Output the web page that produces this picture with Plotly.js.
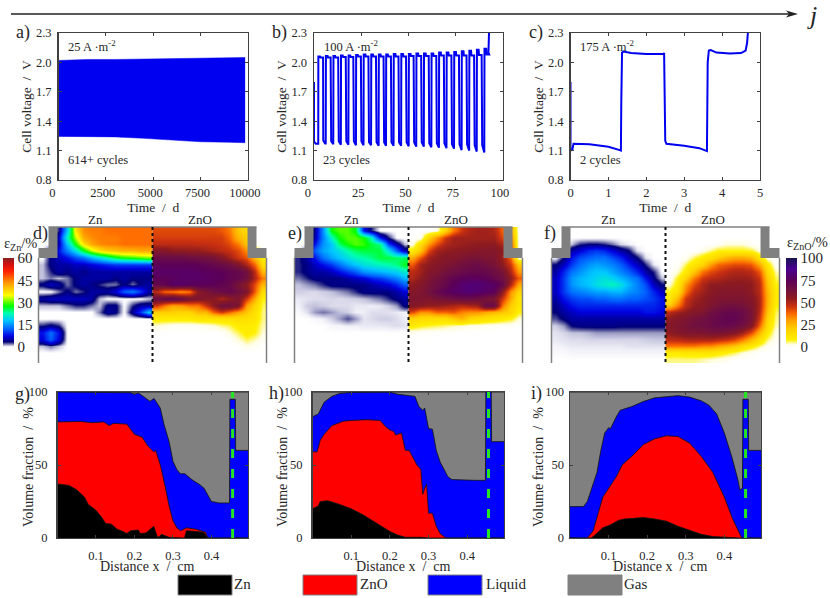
<!DOCTYPE html>
<html>
<head>
<meta charset="utf-8">
<script src="https://cdn.plot.ly/plotly-3.0.1.min.js"></script>
<style>html,body{margin:0;background:#fff}#chart{width:830px;height:598px}</style>
</head>
<body>
<div id="chart"></div>
<script>
// ── Voltage curves (top row) ──────────────────────────────────────────────────
const aTime = [0, 500, 1500, 3000, 4500, 6000, 7500, 9000, 9850];
const aUpper = [2.02, 2.025, 2.03, 2.03, 2.035, 2.04, 2.045, 2.05, 2.05];
const aLower = [1.245, 1.245, 1.245, 1.24, 1.225, 1.205, 1.19, 1.185, 1.18];

const bRise = [2.3, 6.3, 10.3, 14.3, 18.3, 22.3, 26.3, 30.3, 34.3, 38.2, 42.2, 46.2, 50.2, 54.2, 58.2, 62.2, 66.2, 70.2, 74.2, 78.2, 82.2, 86.2, 90.2];
const bTopHigh = [2.06, 2.065, 2.065, 2.07, 2.07, 2.075, 2.08, 2.08, 2.08, 2.08, 2.085, 2.085, 2.085, 2.09, 2.09, 2.09, 2.1, 2.1, 2.105, 2.115, 2.12, 2.13, 2.14];
const bTopLow = [2.05, 2.05, 2.05, 2.055, 2.055, 2.06, 2.06, 2.06, 2.06, 2.06, 2.06, 2.06, 2.065, 2.065, 2.065, 2.065, 2.07, 2.07, 2.07, 2.07, 2.07, 2.075, 2.08];
const bLowHigh = [1.21, 1.21, 1.21, 1.21, 1.21, 1.21, 1.21, 1.2, 1.2, 1.2, 1.2, 1.2, 1.2, 1.2, 1.2, 1.19, 1.19, 1.19, 1.18, 1.18, 1.18, 1.17, 1.17];
const bLowEnd = [1.17, 1.165, 1.165, 1.16, 1.16, 1.155, 1.155, 1.155, 1.15, 1.15, 1.15, 1.15, 1.145, 1.14, 1.14, 1.135, 1.13, 1.125, 1.12, 1.105, 1.1, 1.09, 1.08];

const cTime = [0, 0, 0.05, 0.08, 0.5, 1.0, 1.3, 1.33, 1.34, 1.36, 1.4, 1.6, 2.0, 2.45, 2.47, 2.49, 2.5, 2.53, 3.0, 3.4, 3.6, 3.62, 3.65, 3.7, 3.85, 4.2, 4.5, 4.62, 4.66, 4.68, 4.7];
const cVolt = [1.8, 1.1, 1.11, 1.17, 1.165, 1.14, 1.105, 1.1, 1.6, 2.1, 2.11, 2.095, 2.085, 2.085, 2.095, 1.7, 1.2, 1.17, 1.15, 1.125, 1.095, 2.0, 2.12, 2.125, 2.1, 2.09, 2.095, 2.12, 2.2, 2.3, 2.5];

const voltTicks = [0.8, 1.1, 1.4, 1.7, 2.0, 2.3];

// ── Volume fractions (bottom row) ─────────────────────────────────────────────
const gLiquidX = [0, 0.05, 0.1, 0.15, 0.19, 0.2, 0.21, 0.223, 0.24, 0.251, 0.267, 0.277, 0.29, 0.3, 0.31, 0.319, 0.331, 0.349, 0.37, 0.381, 0.392, 0.4, 0.42, 0.447, 0.448, 0.462, 0.463, 0.495];
const gLiquidY = [100, 100, 99.5, 99.7, 99.5, 98.5, 99.3, 97, 93.6, 95.5, 89, 77.6, 66, 52.5, 47, 44, 44, 40, 36.5, 34, 29, 25, 24, 24, 95, 95, 60, 60];
const gZnOX = [0, 0.06, 0.09, 0.12, 0.135, 0.145, 0.18, 0.2, 0.22, 0.235, 0.25, 0.255, 0.265, 0.27, 0.28, 0.29, 0.3, 0.31, 0.32, 0.335, 0.36, 0.385, 0.39, 0.495];
const gZnOY = [79.5, 79.8, 79, 79.5, 77, 78.5, 78, 71, 69, 63, 59, 60, 52, 47, 35, 22, 12, 7, 5, 7, 6, 4, 0, 0];
const gZnX = [0, 0.03, 0.05, 0.07, 0.08, 0.1, 0.115, 0.125, 0.14, 0.155, 0.17, 0.18, 0.19, 0.21, 0.215, 0.23, 0.25, 0.26, 0.265, 0.27, 0.29, 0.33, 0.335, 0.38, 0.39, 0.495];
const gZnY = [37, 36, 33, 28, 23, 19, 14, 10, 9.5, 6, 4.5, 3, 5, 5.5, 3, 3.5, 8, 0.5, 1, 2.5, 0.5, 0, 5, 4, 0, 0];

const hLiquidX = [0, 0.015, 0.03, 0.05, 0.07, 0.1, 0.2, 0.22, 0.25, 0.265, 0.275, 0.285, 0.29, 0.3, 0.31, 0.32, 0.33, 0.35, 0.36, 0.38, 0.39, 0.42, 0.447, 0.448, 0.462, 0.463, 0.495];
const hLiquidY = [83, 85, 93, 97, 99, 99.7, 99.8, 98.5, 97.5, 97, 90, 87.5, 89, 75, 74.5, 60, 52, 42, 40, 39.7, 40, 39.5, 39.5, 100, 100, 66, 66];
const hZnOX = [0, 0.012, 0.02, 0.03, 0.05, 0.08, 0.1, 0.14, 0.175, 0.19, 0.2, 0.21, 0.215, 0.22, 0.23, 0.24, 0.25, 0.26, 0.27, 0.28, 0.285, 0.29, 0.295, 0.3, 0.31, 0.32, 0.33, 0.345, 0.495];
const hZnOY = [59, 59, 67, 71, 77, 80, 80.5, 81, 80.5, 76, 74, 73, 70.5, 71, 72, 60, 60, 55, 50, 47, 30, 34, 37, 17, 17, 8, 3, 0, 0];
const hZnX = [0, 0.015, 0.02, 0.04, 0.07, 0.1, 0.13, 0.16, 0.18, 0.2, 0.22, 0.24, 0.28, 0.3, 0.495];
const hZnY = [20, 22, 25, 25.5, 23, 20, 16, 11, 8, 4.5, 2, 0.5, 0.5, 0, 0];

const iLiquidX = [0, 0.035, 0.045, 0.06, 0.07, 0.08, 0.09, 0.1, 0.105, 0.12, 0.13, 0.16, 0.19, 0.22, 0.25, 0.28, 0.31, 0.34, 0.36, 0.38, 0.4, 0.42, 0.435, 0.44, 0.447, 0.448, 0.462, 0.463, 0.495];
const iLiquidY = [21.5, 21.5, 25, 38, 45, 60, 72, 75.5, 75, 83, 87.5, 90, 93.5, 96, 97, 97.5, 96.5, 94, 91, 85, 72, 55, 40, 33, 34, 95, 95, 60, 60];
const iZnOX = [0, 0.045, 0.06, 0.075, 0.085, 0.1, 0.12, 0.135, 0.16, 0.19, 0.22, 0.25, 0.28, 0.31, 0.34, 0.37, 0.4, 0.42, 0.44, 0.445, 0.495];
const iZnOY = [0, 0, 5, 18, 28, 34, 42, 50, 56, 64, 68, 70, 69.5, 65, 56, 45, 28, 14, 2, 0, 0];
const iZnX = [0, 0.055, 0.065, 0.085, 0.105, 0.125, 0.14, 0.19, 0.22, 0.25, 0.28, 0.31, 0.34, 0.37, 0.4, 0.44, 0.495];
const iZnY = [0, 0, 2, 7, 9, 12, 13, 14, 13, 11.5, 8, 5, 2.5, 1, 0.5, 0, 0];

const fracX = [0, 0.495];
const gasTop = [100, 100];
const sepX = [0.455, 0.455];
const sepY = [0, 100];

// ── Cell maps (middle row), 20 rows top to bottom × 14 columns ────────────────
const dZn = [
  [0,0,3,18,37,44,45,45,46,46,46,46,46,46],
  [0,0,6,22,33,42,44,45,45,45,46,46,46,46],
  [0,0,5,18,28,37,42,44,45,45,46,46,46,46],
  [0,4,8,14,20,27,33,37,39,40,41,41,42,42],
  [0,4,6,8,11,13,17,20,23,26,28,29,30,31],
  [1,4,5,5,6,6,7,8,9,10,10,10,10,10],
  [1,3,5,4,5,4,5,5,5,5,5,5,5,5],
  [1,2,1,2,4,5,5,5,5,4,5,4,4,4],
  [4,6,5,2,4,5,4,3,2,2,4,2,4,5],
  [0,0,2,4,2,3,5,5,5,7,12,14,10,5],
  [5,6,6,6,6,6,5,1,0,0,0,0,0,1],
  [1,1,1,2,3,3,2,1,4,4,0,3,5,5],
  [0,0,0,0,0,0,0,2,5,4,0,5,10,18],
  [0,0,0,0,0,0,0,0,0,0,0,0,0,0],
  [3,4,3,0,0,0,0,0,0,0,0,0,0,0],
  [8,13,8,0,0,0,0,0,0,0,0,0,0,0],
  [7,12,7,0,0,0,0,0,0,0,0,0,0,0],
  [1,2,1,0,0,0,0,0,0,0,0,0,0,0],
  [0,0,0,0,0,0,0,0,0,0,0,0,0,0],
  [0,0,0,0,0,0,0,0,0,0,0,0,0,0],
];
const dZnO = [
  [42,42,42,42,42,42,42,42,40,35,22,16,0,0],
  [44,44,44,44,44,44,44,44,44,38,25,20,0,0],
  [48,48,48,48,48,47,47,46,45,42,35,22,0,0],
  [58,58,55,55,54,54,52,50,48,46,42,32,14,0],
  [68,68,68,68,66,65,64,62,58,52,45,40,25,10],
  [75,75,75,75,75,74,72,70,68,65,60,50,38,15],
  [78,78,78,78,78,78,76,76,74,72,70,65,48,25],
  [75,75,76,78,78,78,78,76,76,72,70,65,50,35],
  [70,72,78,78,76,76,75,75,72,70,62,55,42,25],
  [48,38,36,32,36,55,60,65,68,70,65,60,40,15],
  [68,70,72,68,62,60,58,56,50,55,60,45,28,8],
  [45,35,28,30,35,35,45,55,65,65,60,30,18,6],
  [20,20,20,18,18,25,25,38,45,38,30,22,14,5],
  [10,10,10,10,10,12,12,12,12,14,15,14,12,5],
  [3,2,1,1,1,1,2,3,5,6,10,10,9,4],
  [0,0,0,0,0,0,0,0,0,3,6,10,8,3],
  [0,0,0,0,0,0,0,0,0,0,3,6,4,1],
  [0,0,0,0,0,0,0,0,0,0,0,2,1,0],
  [0,0,0,0,0,0,0,0,0,0,0,0,0,0],
  [0,0,0,0,0,0,0,0,0,0,0,0,0,0],
];
const eZn = [
  [0,0,4,15,28,30,30,27,8,3,0,0,0,0],
  [0,0,5,14,22,28,30,30,28,22,8,3,0,0],
  [0,0,8,15,18,25,28,30,29,26,24,10,5,1],
  [0,3,12,16,18,20,23,25,26,26,26,20,12,5],
  [3,5,8,13,16,18,20,22,23,24,26,26,25,25],
  [3,4,6,8,10,13,16,18,20,21,22,23,24,27],
  [3,4,5,5,6,8,10,12,15,16,17,18,19,21],
  [2,3,4,4,4,4,5,6,7,9,10,12,14,17],
  [1,1.5,2,3,4,4,4,4,4,5,6,7,9,12],
  [.8,.7,.6,.8,1,1.5,2,3,4,4,4,4,5,7],
  [.4,.5,.6,.6,.7,.6,.7,.8,1,1.5,2,3,4,5],
  [.3,.8,1,.8,.6,.6,.6,.4,.4,.3,.4,.8,1.5,4],
  [.1,.5,1.5,2,1.5,1,.8,.3,.3,.6,.6,.5,.4,.2],
  [0,0,.1,.3,.8,1.5,2.5,1.5,.5,.6,.8,.8,.6,.3],
  [0,0,0,0,.2,.2,.3,.3,.4,.4,.4,.5,.6,.5],
  [0,0,0,0,0,0,0,0,0,0,0,0,0,0],
  [0,0,0,0,0,0,0,0,0,0,0,0,0,0],
  [0,0,0,0,0,0,0,0,0,0,0,0,0,0],
  [0,0,0,0,0,0,0,0,0,0,0,0,0,0],
  [0,0,0,0,0,0,0,0,0,0,0,0,0,0],
];
const eZnO = [
  [0,0,0,2,18,35,45,50,52,52,50,38,28,0],
  [0,1,18,32,45,52,52,52,52,52,52,42,35,0],
  [2,15,30,42,50,52,53,54,55,55,55,50,42,0],
  [10,22,42,52,54,55,56,57,58,58,58,55,45,0],
  [28,40,52,55,58,58,60,62,62,60,60,52,38,0],
  [40,52,55,58,60,62,65,66,68,65,62,55,45,22],
  [48,52,58,60,64,66,68,70,70,70,66,62,50,30],
  [50,55,60,64,68,72,75,76,76,74,70,65,55,40],
  [55,58,62,66,70,76,80,82,82,80,78,70,50,28],
  [58,60,64,70,75,78,80,82,80,78,75,55,32,18],
  [60,60,60,62,64,66,68,68,66,62,60,45,28,12],
  [58,56,54,54,52,50,48,50,52,68,68,35,20,12],
  [42,32,32,38,38,40,34,32,32,28,25,22,18,8],
  [18,16,15,15,15,20,26,18,16,14,12,10,8,3],
  [10,8,7,6,5,4,3,2,2,1,1,.5,.5,0],
  [1,.5,.3,.2,.1,0,0,0,0,0,0,0,0,0],
  [0,0,0,0,0,0,0,0,0,0,0,0,0,0],
  [0,0,0,0,0,0,0,0,0,0,0,0,0,0],
  [0,0,0,0,0,0,0,0,0,0,0,0,0,0],
  [0,0,0,0,0,0,0,0,0,0,0,0,0,0],
];
const fZn = [
  [0,0,0,0,0,0,0,0,0,0,0,0,0,0],
  [0,0,0,0,0,0,0,0,0,0,0,0,0,0],
  [0,0,1,3,3.5,3.5,3,2,.7,.3,0,0,0,0],
  [0,.4,5,7,9,10,9,7,5,3.5,.5,0,0,0],
  [.2,3.5,8,11,12,13,13,11,9,6,3.5,.5,0,0],
  [3.5,6,10,13,15,16,15,14,12,9,6,3,.4,0],
  [5,9,13,15,17,18,18,16,14,12,9,5,3,0],
  [6,10,15,17,18,19,20,19,17,15,13,8,4,1],
  [6,10,15,17,18,20,21,22,20,17,14,11,6,3.5],
  [6,10,13,14,15,16,16,17,17,15,14,12,9,6],
  [5,8,10,11,11,12,12,13,13,12,12,11,10,8],
  [4,6,8,9,9,9,9,9,9,9,9,9,9,8],
  [3.5,5,6,7,7,7,7,7,7,7,7,8,8,7],
  [2.5,3.8,5,5,5,5,5,5,5,5,5,5,5,5],
  [.8,1.5,3.5,4,4,4,4,4,3.8,3.8,3.8,3.8,3.8,3.8],
  [.5,.7,1,1,1.2,1.5,1.5,1.5,1.5,1.5,1.5,1.5,1.5,1.5],
  [.4,.5,.6,.6,.7,.7,.7,.7,.7,.7,.7,.8,.9,.9],
  [.2,.3,.4,.4,.4,.4,.4,.4,.4,.5,.5,.5,.5,.5],
  [.1,.1,.2,.2,.2,.2,.2,.2,.2,.2,.2,.2,.2,.2],
  [0,0,0,0,0,0,0,0,0,0,0,0,0,0],
];
const fZnO = [
  [0,0,0,0,0,0,0,0,0,0,0,0,0,0],
  [0,0,0,0,0,0,0,0,0,0,0,0,0,0],
  [0,0,0,0,0,0,1,3,3,3,1,0,0,0],
  [0,0,0,0,2,5,8,8,8,8,7,2,0,0],
  [0,0,1,6,10,14,20,25,28,28,25,12,2,0],
  [0,.5,6,12,18,30,38,40,42,42,40,28,10,1],
  [0,3,10,22,36,42,45,48,50,50,48,40,15,4],
  [0,8,18,35,45,48,50,52,53,53,52,45,20,6],
  [3,10,30,42,50,55,55,56,56,56,55,48,22,8],
  [8,14,35,48,52,56,58,58,58,58,55,48,25,10],
  [12,25,45,52,55,58,60,60,60,60,58,50,26,10],
  [22,35,48,54,56,60,63,65,65,63,60,50,25,8],
  [48,52,55,58,60,65,68,70,70,68,62,48,22,6],
  [55,58,60,63,65,68,70,72,72,68,62,45,18,5],
  [58,60,62,65,66,68,70,70,68,65,58,38,14,4],
  [55,58,60,60,60,62,62,60,58,52,42,25,10,2],
  [48,48,50,50,50,50,48,46,42,35,25,14,5,1],
  [35,35,35,35,32,32,28,25,22,15,10,5,1,0],
  [10,10,11,11,12,12,10,8,6,3,1,0,0,0],
  [5,5,5,5,4,3,2,1,0,0,0,0,0,0],
];

const znScale = [[0,'#ffffff'],[0.005,'#f0f0f8'],[0.017,'#c0c0dc'],[0.034,'#7070a8'],[0.058,'#000078'],[0.12,'#0000e0'],[0.2,'#0060ff'],[0.3,'#00c8ff'],[0.38,'#00ffb0'],[0.46,'#00ff00'],[0.58,'#ffff00'],[0.72,'#ff9900'],[0.85,'#ff2000'],[0.93,'#d01010'],[1,'#8a2020']];
const znoScale = [[0,'#ffffff'],[0.03,'#fffde0'],[0.08,'#fff000'],[0.2,'#ffd000'],[0.3,'#ffa000'],[0.38,'#f86400'],[0.46,'#c83010'],[0.55,'#8c1a20'],[0.65,'#701040'],[0.75,'#5c0058'],[0.88,'#4a0090'],[1,'#151550']];

const serif = 'Liberation Serif, Times New Roman, serif';
const ink = '#262626';
const nbsp = '\u00a0';
const W = 830, H = 598;
const px = v => v / W;
const py = v => 1 - v / H;

const traces = [];
const layout = {
    width: W, height: H, showlegend: false, paper_bgcolor: '#fff', plot_bgcolor: '#fff',
    margin: { l: 0, r: 0, t: 0, b: 0, autoexpand: false },
    font: { family: serif, size: 13, color: ink },
    shapes: [], annotations: [],
};

function note(x, y, text, size, anchor, angle) {
    layout.annotations.push({
        xref: 'paper', yref: 'paper', x: px(x), y: py(y), text, showarrow: false, textangle: angle || 0,
        xanchor: anchor || 'left', yanchor: 'middle', font: { family: serif, size: size || 13, color: ink },
    });
}

function frame(n, left, right, top, bottom, xa, ya) {
    const suf = n === 1 ? '' : n;
    const common = {
        showgrid: false, zeroline: false, ticks: 'inside', ticklen: 3, tickwidth: 1, tickcolor: '#404040',
        linecolor: '#404040', linewidth: 1.4, mirror: 'ticks', tickfont: { family: serif, size: 12.5, color: ink },
    };
    layout['xaxis' + suf] = Object.assign({ domain: [px(left), px(right)], anchor: 'y' + suf }, common, xa);
    layout['yaxis' + suf] = Object.assign({ domain: [py(bottom), py(top)], anchor: 'x' + suf }, common, ya);
    return { xaxis: 'x' + suf, yaxis: 'y' + suf };
}

// ── Top row: cell voltage ─────────────────────────────────────────────────────
const voltTitle = `Cell voltage${nbsp}${nbsp}/${nbsp}${nbsp}V`;
const timeTitle = `Time${nbsp}${nbsp}/${nbsp}${nbsp}d`;
// pad = trailing spaces on the tick labels, they sit a little left of their ticks in the original
function voltFrame(n, left, right, xrange, tickvals, pad) {
    return frame(n, left, right, 33, 180,
        { range: xrange, tickmode: 'array', tickvals, ticktext: tickvals.map(v => v + nbsp.repeat(v === 0 ? pad * 2 : pad)), ticklabelstandoff: 1, automargin: true, title: { text: timeTitle, font: { size: 13.5 }, standoff: 0 } },
        { range: [0.8, 2.3], tickmode: 'array', tickvals: voltTicks, ticktext: voltTicks.map(v => v.toFixed(1)), ticklabelstandoff: 3, automargin: true, title: { text: voltTitle, font: { size: 13.5 }, standoff: 1 } });
}

const axA = voltFrame(1, 58.5, 248, [0, 10000], [0, 2500, 5000, 7500, 10000], 2);
traces.push({ type: 'scatter', mode: 'lines', x: aTime, y: aLower, line: { color: '#0000f0', width: 0.5 }, ...axA });
traces.push({ type: 'scatter', mode: 'lines', x: aTime, y: aUpper, fill: 'tonexty', fillcolor: '#0000f0', line: { color: '#0000f0', width: 0.5 }, ...axA });

const axB = voltFrame(2, 314, 503, [0, 100], [0, 25, 50, 75, 100], 2);
const bX = [0, 0, 1.0], bY = [1.8, 1.19, 1.17];
bRise.forEach((t, k) => {
    bX.push(t - 0.05, t, t + 0.9, t + 1.1, t + 2.5);
    bY.push(k ? bLowEnd[k] : 1.17, bTopHigh[k], bTopHigh[k], bTopLow[k], bTopLow[k]);
    if (k < bRise.length - 1) {
        bX.push(t + 2.6, t + 2.8, bRise[k + 1] - 0.1);
        bY.push(bLowHigh[k + 1], bLowHigh[k + 1] - 0.015, bLowEnd[k + 1]);
    }
});
// last charge step runs off the top of the axis
bX.push(92.3, 92.6, 93);
bY.push(2.1, 2.3, 2.5);
traces.push({ type: 'scatter', mode: 'lines', x: bX, y: bY, line: { color: '#0000f0', width: 2 }, ...axB });

const axC = voltFrame(3, 570.5, 760, [0, 5], [0, 1, 2, 3, 4, 5], 0);
traces.push({ type: 'scatter', mode: 'lines', x: cTime, y: cVolt, line: { color: '#0000f0', width: 2 }, ...axC });

// ── Middle row: cell maps ─────────────────────────────────────────────────────
function cellMap(n, cx, znZ, znoZ, znBar, znoBar) {
    const ax = frame(n, cx - 114, cx + 114, 227, 363,
        { range: [-1, 1], visible: false }, { range: [1, 0], visible: false });
    const common = { type: 'heatmap', zsmooth: 'best', dx: 1 / 14, dy: 0.05, y0: 0.025, hoverinfo: 'skip', ...ax };
    const bar = (x, ticks) => ({
        x: px(x), xanchor: 'left', y: py(258), yanchor: 'top', len: 89, lenmode: 'pixels', thickness: 11, thicknessmode: 'pixels',
        xpad: 0, ypad: 0, outlinewidth: 0, ticks: '', tickvals: ticks, tickfont: { family: serif, size: 15, color: ink },
    });
    traces.push({ ...common, z: znZ, x0: -1 + 1 / 28, zmin: 0, zmax: 60, colorscale: znScale, showscale: !!znBar, colorbar: znBar ? bar(3, [0, 15, 30, 45, 60]) : undefined });
    traces.push({ ...common, z: znoZ, x0: 1 / 28, zmin: 0, zmax: 100, colorscale: znoScale, showscale: !!znoBar, colorbar: znoBar ? bar(786, [0, 25, 50, 75, 100]) : undefined });

    // cell housing
    const grey = '#808080';
    const rect = (x0, y0, x1, y1) => layout.shapes.push({ type: 'rect', xref: 'paper', yref: 'paper', x0: px(x0), x1: px(x1), y0: py(y0), y1: py(y1), fillcolor: grey, line: { width: 0 }, layer: 'above' });
    const edge = (x0, y0, x1, y1, color, width, dash) => layout.shapes.push({ type: 'line', xref: 'paper', yref: 'paper', x0: px(x0), x1: px(x1), y0: py(y0), y1: py(y1), line: { color, width, dash: dash || 'solid' }, layer: 'above' });
    rect(cx - 104, 227, cx - 95, 248); rect(cx - 114, 248, cx - 95, 258);
    rect(cx + 95, 227, cx + 104, 248); rect(cx + 95, 248, cx + 114, 258);
    edge(cx - 104, 227, cx + 104, 227, grey, 1.5);
    edge(cx - 114, 258, cx - 114, 363, grey, 1.5);
    edge(cx + 114, 258, cx + 114, 363, grey, 1.5);
    edge(cx, 227, cx, 363, '#111', 2, 'dot');
    note(cx - 57, 219, 'Zn', 13, 'center');
    note(cx + 47, 219, 'ZnO', 13, 'center');
}
cellMap(4, 152.5, dZn, dZnO, true, false);
cellMap(5, 408.5, eZn, eZnO, false, false);
cellMap(6, 665.5, fZn, fZnO, false, true);

// ── Bottom row: volume fractions ──────────────────────────────────────────────
const fracTitle = `Volume fraction${nbsp}${nbsp}/${nbsp}${nbsp}%`;
const distTitle = `Distance x${nbsp}${nbsp}/${nbsp}${nbsp}cm`;
function fracPanel(n, left, right, titleX, labelGap, lx, ly, ox, oy, zx, zy) {
    const ax = frame(n, left, right, 392, 538,
        { range: [0, 0.495], tickmode: 'array', tickvals: [0.1, 0.2, 0.3, 0.4], ticklabelstandoff: 6 },
        { range: [0, 100], tickmode: 'array', tickvals: [0, 50, 100], ticklabelstandoff: labelGap });
    const area = (x, y, color) => ({ type: 'scatter', mode: 'lines', x, y, fill: 'tozeroy', fillcolor: color, line: { color: '#111', width: 0.8 }, ...ax });
    traces.push(area(fracX, gasTop, '#808080'), area(lx, ly, '#0000ff'), area(ox, oy, '#ff0000'), area(zx, zy, '#000000'));
    traces.push({ type: 'scatter', mode: 'lines', x: sepX, y: sepY, line: { color: '#22e622', width: 3, dash: '9px,11px' }, ...ax });
    // titles sit against the tick labels in the original, closer than axis title standoff allows
    note(titleX, 467, fracTitle, 14, 'center', -90);
    note((left + right) / 2 - 5, 566, distTitle, 14, 'center');
}
fracPanel(7, 57.5, 248, 28, 6, gLiquidX, gLiquidY, gZnOX, gZnOY, gZnX, gZnY);
fracPanel(8, 312.5, 504, 282, 6, hLiquidX, hLiquidY, hZnOX, hZnOY, hZnX, hZnY);
fracPanel(9, 570, 761, 538, 2, iLiquidX, iLiquidY, iZnOX, iZnOY, iZnX, iZnY);

// ── Texts, legend, arrow ──────────────────────────────────────────────────────
note(66, 46, '25 A ·m<sup>-2</sup>', 12.5);
note(322, 46, '100 A ·m<sup>-2</sup>', 12.5);
note(578, 46, '175 A ·m<sup>-2</sup>', 12.5);
note(66, 160, '614+ cycles', 12.5);
note(321, 160, '23 cycles', 12.5);
note(578, 160, '2 cycles', 12.5);

[['a)', 14, 33], ['b)', 270, 33], ['c)', 527, 33], ['d)', 31, 233], ['e)', 286, 233], ['f)', 542, 233], ['g)', 13, 394], ['h)', 267, 393], ['i)', 529, 393]]
    .forEach(([t, x, y]) => note(x, y, t, 18));

note(2, 244, 'ε<sub>Zn</sub>/%', 14.5);
note(785, 243, 'ε<sub>ZnO</sub>/%', 14.5);

[['Zn', 178, '#000000', 232], ['ZnO', 303, '#ff0000', 358], ['Liquid', 428, '#0000ff', 484], ['Gas', 568, '#808080', 622]].forEach(([t, x, c, lx]) => {
    layout.shapes.push({ type: 'rect', xref: 'paper', yref: 'paper', x0: px(x), x1: px(x + 54), y0: py(575), y1: py(595), fillcolor: c, line: { color: '#808080', width: 1 } });
    note(lx, 584, t, 15);
});

layout.shapes.push({ type: 'line', xref: 'paper', yref: 'paper', x0: px(11), x1: px(790), y0: py(14), y1: py(14), line: { color: '#222', width: 1.5 } });
layout.shapes.push({
    type: 'path', xref: 'paper', yref: 'paper', fillcolor: '#222', line: { width: 0 },
    path: `M ${px(786)} ${py(10.5)} L ${px(798)} ${py(14)} L ${px(786)} ${py(17.5)} L ${px(789)} ${py(14)} Z`,
});
note(805, 16, '<i>j</i>', 26);

Plotly.newPlot('chart', traces, layout, { displayModeBar: false, staticPlot: true });
</script>
</body>
</html>
